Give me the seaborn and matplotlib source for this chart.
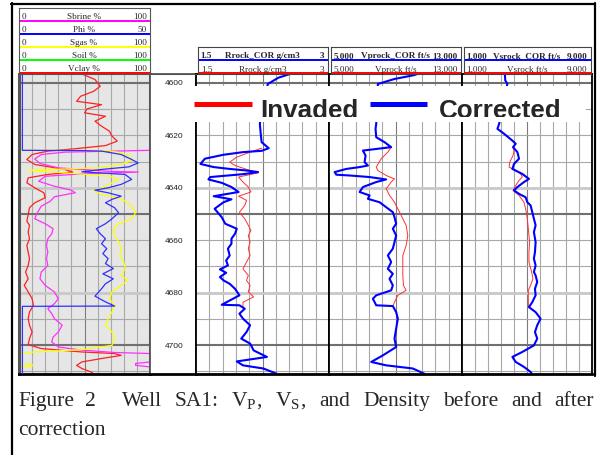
import numpy as np
import pandas as pd
import matplotlib
matplotlib.use("Agg")
import matplotlib.pyplot as plt
from matplotlib.patches import Rectangle
import seaborn as sns

# ---- track 1 curves, (depth ft, value %)
sbrine = [(4596.6, 100), (4625.7, 100), (4626.4, 35), (4627.3, 17), (4629.0, 12), (4630.7, 16),
          (4632.4, 30), (4633.7, 68), (4634.0, 91), (4634.7, 48), (4635.6, 20), (4637.5, 15),
          (4639.4, 27), (4640.9, 40), (4641.9, 43), (4643.4, 27), (4645.1, 24), (4647.0, 17),
          (4649.5, 14), (4651.8, 12), (4653.7, 20), (4655.6, 26), (4657.5, 25), (4659.4, 22),
          (4662.0, 21), (4664.5, 22), (4667.0, 21), (4669.6, 22), (4672.1, 17), (4674.7, 16),
          (4677.2, 20), (4679.7, 27), (4682.3, 30), (4684.2, 27), (4686.1, 22), (4688.0, 25),
          (4689.9, 27), (4692.4, 33), (4695.0, 30), (4696.9, 26), (4698.8, 25), (4700.7, 30),
          (4701.9, 48), (4702.8, 73), (4703.2, 100), (4706.4, 100), (4707.0, 89), (4707.7, 89),
          (4708.3, 100), (4711.0, 100)]

phi = [(4596.6, 1.3), (4625.7, 1.3), (4625.8, 24), (4626.0, 31.5), (4627.3, 39), (4629.2, 43),
       (4630.5, 45.5), (4632.0, 42), (4633.0, 31.5), (4633.9, 24), (4634.3, 30.5), (4634.9, 40.5),
       (4636.8, 43), (4638.7, 39), (4640.0, 34), (4640.9, 29), (4641.9, 34), (4643.2, 39),
       (4644.4, 35.5), (4645.7, 33), (4647.6, 36.5), (4649.5, 38), (4651.8, 35.5), (4653.7, 33),
       (4655.6, 29.5), (4657.5, 31), (4659.4, 33), (4661.3, 31.5), (4663.2, 33.5), (4665.1, 32),
       (4667.0, 34), (4668.9, 33), (4670.8, 36), (4672.8, 32), (4674.7, 36), (4676.6, 33),
       (4678.5, 31.5), (4681.3, 29), (4683.5, 33), (4685.1, 36.5), (4685.2, 1.3), (4711.0, 1.3)]

sgas = [(4596.6, 0), (4625.7, 0), (4625.8, 68), (4626.7, 78), (4627.9, 85), (4629.5, 86),
        (4631.1, 78), (4632.4, 61), (4633.3, 7), (4634.3, 35), (4635.6, 70), (4636.8, 76),
        (4639.4, 66), (4641.3, 57), (4642.5, 63), (4643.8, 76), (4645.1, 81), (4647.0, 86),
        (4649.5, 89), (4651.8, 86), (4653.7, 76), (4655.6, 72), (4658.2, 73), (4660.7, 76),
        (4663.2, 78), (4665.8, 77), (4668.3, 80), (4670.8, 81), (4673.4, 78), (4675.3, 83),
        (4677.2, 78), (4679.7, 71), (4682.3, 69), (4684.8, 73), (4687.4, 71), (4689.9, 68),
        (4692.4, 66), (4695.0, 71), (4697.5, 73), (4700.1, 71), (4701.7, 48), (4702.6, 12),
        (4703.2, 0), (4707.0, 0), (4707.4, 10), (4708.0, 10), (4708.3, 0), (4711.0, 0)]

soil = [(4596.6, 0), (4711.0, 0)]

vclay = [(4596.6, 50), (4596.8, 49), (4598.7, 58), (4601.3, 62), (4603.2, 57), (4605.1, 47),
         (4607.0, 44), (4608.3, 63), (4609.9, 52), (4611.4, 50), (4612.7, 66), (4614.6, 58),
         (4616.5, 63), (4618.4, 69), (4620.3, 71), (4622.2, 75), (4623.9, 66), (4625.1, 43),
         (4626.0, 22), (4627.3, 10), (4629.2, 6), (4631.1, 12), (4633.0, 35), (4634.0, 41),
         (4634.9, 22), (4636.2, 7), (4638.1, 6), (4640.0, 12), (4641.9, 19), (4643.8, 20),
         (4645.7, 12), (4647.6, 8), (4650.2, 7), (4652.7, 6), (4654.3, 8), (4656.9, 7),
         (4659.4, 8), (4662.0, 6), (4664.5, 7), (4667.0, 8), (4669.6, 7), (4672.1, 5),
         (4674.7, 7), (4677.2, 4), (4679.7, 7), (4682.3, 10), (4684.8, 11), (4687.4, 8),
         (4689.9, 7), (4692.4, 8), (4695.0, 10), (4697.5, 8), (4699.8, 7), (4701.3, 17),
         (4702.6, 48), (4703.2, 73), (4703.9, 78), (4705.1, 63), (4706.4, 48), (4707.7, 44),
         (4708.9, 48), (4710.2, 55), (4711.0, 57)]

# ---- rock property tracks, (depth ft, value)
rho_cor = [(4596.6, 2.56), (4598.0, 2.43), (4599.0, 2.38), (4600.4, 2.31), (4615.6, 2.22),
           (4619.4, 2.23), (4622.6, 2.24), (4624.9, 2.32), (4625.9, 2.24), (4626.4, 2.03),
           (4627.4, 1.81), (4628.9, 1.60), (4630.9, 1.55), (4632.1, 1.70), (4632.8, 1.88),
           (4633.4, 2.07), (4634.0, 2.20), (4634.8, 2.03), (4635.9, 1.66), (4636.8, 1.64),
           (4638.1, 1.79), (4639.7, 1.90), (4641.6, 1.98), (4643.2, 1.70), (4643.6, 1.77),
           (4644.4, 1.90), (4645.5, 1.81), (4648.0, 1.71), (4651.2, 1.79), (4653.7, 1.83),
           (4655.6, 1.96), (4657.5, 1.94), (4659.4, 1.90), (4661.3, 1.90), (4663.2, 1.86),
           (4665.8, 1.88), (4667.7, 1.84), (4669.6, 1.86), (4671.1, 1.77), (4672.4, 1.84),
           (4674.0, 1.77), (4675.3, 1.81), (4676.6, 1.88), (4678.5, 1.94), (4681.0, 1.99),
           (4684.6, 1.79), (4684.8, 1.99), (4686.1, 2.05), (4688.0, 1.99), (4689.9, 2.03),
           (4692.4, 2.11), (4695.0, 2.07), (4697.5, 2.01), (4699.4, 2.11), (4702.0, 2.15),
           (4704.5, 2.30), (4706.2, 1.96), (4707.7, 2.03), (4708.9, 2.26), (4710.9, 2.41)]

rho_inv = [(4624.9, 2.24), (4626.4, 2.11), (4628.3, 1.96), (4630.2, 1.88), (4631.5, 1.94),
           (4633.4, 2.11), (4634.3, 2.20), (4635.9, 1.98), (4637.8, 2.03), (4639.7, 2.09),
           (4641.6, 2.12), (4643.2, 1.98), (4644.8, 2.07), (4646.7, 2.05), (4649.3, 1.99),
           (4651.8, 2.05), (4654.3, 2.09), (4656.3, 2.12), (4658.2, 2.09), (4660.7, 2.11),
           (4663.2, 2.09), (4665.8, 2.11), (4668.3, 2.07), (4670.9, 2.03), (4673.4, 2.09),
           (4675.3, 2.07), (4677.2, 2.11), (4679.7, 2.09), (4681.6, 2.15), (4683.6, 2.03),
           (4685.5, 2.03)]

vp_cor = [(4596.6, 10300), (4597.0, 10140), (4598.5, 8940), (4600.4, 7940), (4615.6, 7840),
          (4617.5, 7800), (4620.7, 7840), (4622.6, 8340), (4624.5, 8740), (4625.8, 7040),
          (4627.7, 7200), (4630.2, 7140), (4631.5, 7340), (4632.1, 6840), (4632.8, 6040),
          (4634.0, 5340), (4635.0, 5440), (4635.3, 6240), (4635.9, 7440), (4636.8, 8440),
          (4637.8, 7840), (4639.7, 7040), (4641.6, 6840), (4642.9, 7440), (4644.2, 7340),
          (4645.5, 8040), (4649.3, 8840), (4651.2, 8940), (4653.7, 9040), (4655.6, 8840),
          (4658.2, 9040), (4660.7, 8940), (4663.2, 8840), (4665.8, 8540), (4668.3, 8740),
          (4670.9, 8540), (4672.8, 8840), (4674.7, 8640), (4677.2, 8840), (4679.1, 8740),
          (4681.0, 7840), (4682.3, 7640), (4684.8, 7840), (4685.1, 8840), (4687.4, 9040),
          (4689.9, 9140), (4693.7, 9040), (4697.5, 8940), (4700.7, 9040), (4703.9, 8240),
          (4706.4, 7540), (4707.7, 8440), (4708.9, 10040), (4710.9, 10740)]

vp_inv = [(4624.5, 8740), (4626.4, 8540), (4628.9, 8140), (4632.1, 7840), (4633.4, 7940),
          (4635.3, 8440), (4636.6, 8940), (4637.8, 8740), (4640.4, 8440), (4642.9, 8640),
          (4645.5, 8940), (4648.0, 9140), (4651.8, 9440), (4654.3, 9640), (4658.2, 9740),
          (4662.0, 9640), (4665.8, 9440), (4669.6, 9440), (4673.4, 9440), (4677.2, 9480),
          (4679.1, 9640), (4681.0, 9140), (4683.6, 8940), (4685.1, 8840)]

vs_cor = [(4596.6, 3640), (4599.0, 3660), (4600.4, 3790), (4615.6, 3285), (4617.5, 3180),
          (4619.4, 3590), (4622.0, 4100), (4623.2, 4305), (4624.5, 4140), (4626.4, 4410),
          (4628.9, 4510), (4630.9, 4200), (4632.8, 4100), (4634.7, 4710), (4636.6, 5120),
          (4637.8, 4815), (4639.7, 4410), (4641.0, 4200), (4642.3, 4510), (4643.6, 4915),
          (4645.5, 5020), (4646.7, 5220), (4649.3, 5325), (4651.8, 5425), (4654.3, 5530),
          (4656.9, 5425), (4660.7, 5530), (4664.5, 5490), (4667.0, 5425), (4669.6, 5530),
          (4672.1, 5425), (4673.4, 5530), (4675.9, 5630), (4678.5, 5490), (4681.0, 5530),
          (4683.6, 5325), (4685.5, 5120), (4687.4, 5530), (4689.9, 5835), (4692.4, 5630),
          (4695.0, 5490), (4697.5, 5630), (4700.1, 5425), (4702.6, 4710), (4704.5, 4100),
          (4706.4, 4305), (4708.3, 4815), (4710.2, 5220), (4711.0, 5300)]

vs_inv = [(4624.5, 4140), (4625.8, 4200), (4627.7, 4140), (4630.2, 3940), (4632.1, 3900),
          (4633.4, 4305), (4634.7, 4610), (4635.9, 4710), (4637.2, 4510), (4639.1, 4305),
          (4641.0, 4140), (4642.9, 4510), (4645.5, 4815), (4648.0, 4915), (4651.8, 5020),
          (4655.6, 5080), (4660.7, 5160), (4664.5, 5120), (4668.3, 5120), (4672.1, 5285),
          (4674.7, 5365), (4677.2, 5220), (4679.1, 5080), (4684.8, 5080), (4685.5, 5120)]

depth_labels = [4600, 4620, 4640, 4660, 4680, 4700]

# header rows of track 1: name, left, right, colour
left_headers = [("Sbrine %", "0", "100", "#ff00ff"),
                ("Phi %", "0", "50", "#0000ff"),
                ("Sgas %", "0", "100", "#ffff00"),
                ("Soil %", "0", "100", "#00ff00"),
                ("Vclay %", "0", "100", "#ff0000")]

# rock tracks: corrected name, invaded name, left label, right label, min, max
rock_tracks = [("Rrock_COR g/cm3", "Rrock g/cm3", "1.5", "3", 1.5, 3.0),
               ("Vprock_COR ft/s", "Vprock ft/s", "5,000", "13,000", 5000, 13000),
               ("Vsrock_COR ft/s", "Vsrock ft/s", "1,000", "9,000", 1000, 9000)]

caption_1 = ["Figure", "2", "Well", "SA1:", r"V$_\mathregular{P}$,", r"V$_\mathregular{S}$,",
             "and", "Density", "before", "and", "after"]
caption_2 = "correction"

W, H = 597, 456
TOP_D, BOT_D = 4596.6, 4711.0

sns.set_style("white")
plt.rcParams["font.family"] = ["Liberation Serif", "DejaVu Serif"]
plt.rcParams["mathtext.fontset"] = "stix"

fig = plt.figure(figsize=(W / 100, H / 100), dpi=100)


def px_axes(x0, y0, x1, y1):
    return fig.add_axes([x0 / W, 1 - y1 / H, (x1 - x0) / W, (y1 - y0) / H])


def draw_curve(ax, pts, color, lw, z=3):
    df = pd.DataFrame(pts, columns=["depth", "value"])
    sns.lineplot(data=df, x="value", y="depth", orient="y", sort=False, estimator=None,
                 color=color, lw=lw, ax=ax, legend=False, zorder=z)


def setup_track(ax, lo, hi, face, edge, grid=True):
    ax.set_facecolor(face)
    ax.set_xlim(lo, hi)
    ax.set_ylim(BOT_D, TOP_D)
    if grid:
        for i, xv in enumerate(np.linspace(lo, hi, 11)[1:-1]):
            ax.axvline(xv, color="#7c7c7c" if i == 4 else "#a8a8a8", lw=0.8, zorder=1)
        for d in range(4600, 4711, 10):
            if d % 50 == 0:
                ax.axhline(d, color="#707070", lw=1.5, zorder=1)
            elif d in (4640, 4680):
                ax.axhline(d, color="#c8c8c8", lw=2.0, zorder=1)
            else:
                ax.axhline(d, color="#a8a8a8", lw=0.8, zorder=1)
    ax.set_xticks([])
    ax.set_yticks([])
    ax.set_xlabel("")
    ax.set_ylabel("")
    for s in ax.spines.values():
        s.set_color(edge)
        s.set_linewidth(1.3)
        s.set_zorder(10)
    ax.spines["bottom"].set_color("black")
    ax.spines["bottom"].set_linewidth(2)


# ---- track 1 (petrophysics)
ax1 = px_axes(19, 75, 150, 375)
draw_curve(ax1, soil, "#00ff00", 0.9, z=2)
draw_curve(ax1, vclay, "#ff2020", 0.9)
draw_curve(ax1, sbrine, "#ff30ff", 0.9)
draw_curve(ax1, sgas, "#ffff00", 0.9)
setup_track(ax1, 0, 100, "#e6e6e6", "#555555")
ax1.spines["left"].set_linewidth(2.2)
ax1.spines["right"].set_linewidth(2.2)
ax_phi = ax1.twiny()
draw_curve(ax_phi, phi, "#3030ff", 0.9)
ax_phi.set_xlim(0, 50)
ax_phi.set_ylim(BOT_D, TOP_D)
ax_phi.axis("off")

# ---- depth track
axd = px_axes(150, 75, 196, 375)
setup_track(axd, 0, 1, "white", "#555555", grid=False)
for d in depth_labels:
    axd.text(0.52, d, str(d), transform=axd.get_yaxis_transform(), ha="center", va="center",
             fontsize=6, family="Liberation Sans", color="#222222")

# ---- rock tracks
bounds = [(196, 329), (329, 462), (462, 592)]
curves = [(rho_cor, rho_inv), (vp_cor, vp_inv), (vs_cor, vs_inv)]
for (x0, x1), (cor, inv), (n_cor, n_inv, lo_lbl, hi_lbl, lo, hi) in zip(bounds, curves, rock_tracks):
    ax = px_axes(x0, 75, x1, 375)
    draw_curve(ax, inv, "#ff3030", 0.7, z=3)
    draw_curve(ax, cor, "#0000ff", 1.5, z=4)
    setup_track(ax, lo, hi, "white", "black")

    hdr = px_axes(x0 + 1.5, 48, x1 - 1.5, 75)
    hdr.set_xlim(0, 1)
    hdr.set_ylim(27, 0)
    hdr.set_xticks([])
    hdr.set_yticks([])
    for s in hdr.spines.values():
        s.set_color("#444444")
        s.set_linewidth(0.8)
    hdr.axhline(13, color="#0000ff", lw=1.4)
    hdr.axhline(26, color="#ff0000", lw=1.4)
    for row, name, wt in [(10.5, n_cor, "bold"), (23.5, n_inv, "normal")]:
        hdr.text(0.025, row, lo_lbl, fontsize=6.6, weight=wt, ha="left")
        hdr.text(0.5, row, name, fontsize=6.6, weight=wt, ha="center")
        hdr.text(0.975, row, hi_lbl, fontsize=6.6, weight=wt, ha="right")

# ---- track 1 header
lh = px_axes(19, 9, 150, 75)
lh.set_xlim(0, 131)
lh.set_ylim(66, 0)
lh.set_xticks([])
lh.set_yticks([])
for s in lh.spines.values():
    s.set_color("#555555")
    s.set_linewidth(0.8)
for i, (name, lo_lbl, hi_lbl, col) in enumerate(left_headers):
    base = 13 * (i + 1)
    lh.axhline(base, color=col, lw=1.4)
    lh.text(3, base - 3, lo_lbl, fontsize=6.6, ha="left")
    lh.text(65, base - 3, name, fontsize=6.6, ha="center")
    lh.text(128, base - 3, hi_lbl, fontsize=6.6, ha="right")

# ---- overlay: frame, legend box, caption (pixel coordinates)
ov = fig.add_axes([0, 0, 1, 1])
ov.set_xlim(0, W)
ov.set_ylim(H, 0)
ov.axis("off")
ov.plot([11.5, 11.5], [4, H], color="black", lw=1.6)
ov.plot([11, 595], [4.5, 4.5], color="black", lw=1.6)
ov.plot([594.5, 594.5], [4, 377], color="black", lw=1.6)
ov.plot([150, 196], [75, 75], color="#555555", lw=0.8)

ov.add_patch(Rectangle((186, 87), 400, 36, facecolor="white", edgecolor="none", zorder=5))
clip = Rectangle((186, 87), 400, 30.5, transform=ov.transData)
ov.plot([194, 252], [104.5, 104.5], color="#ff0000", lw=3.6, zorder=6, solid_capstyle="butt")
ov.plot([370, 427], [104.5, 104.5], color="#0000ff", lw=3.6, zorder=6, solid_capstyle="butt")
for x, label in [(260, "Invaded"), (439, "Corrected")]:
    t = ov.text(x, 118.5, label, fontsize=18.7, weight="bold", family="Liberation Sans",
                ha="left", va="baseline", zorder=7, clip_on=True)
    t.set_clip_path(clip)

# justified first caption line, wider gap after the figure number
renderer = fig.canvas.get_renderer()
words = [ov.text(0, 406, w, fontsize=15.5, ha="left", va="baseline") for w in caption_1]
widths = [w.get_window_extent(renderer).width for w in words]
gap_w = [0.9, 2.0] + [1] * (len(words) - 3)
gap = (594 - 18 - sum(widths)) / sum(gap_w)
x = 18
for w, wd, g in zip(words, widths, gap_w + [0]):
    w.set_x(x)
    x += wd + g * gap
ov.text(18, 435, caption_2, fontsize=15.5, ha="left", va="baseline")

fig.savefig("out.png", dpi=100)
